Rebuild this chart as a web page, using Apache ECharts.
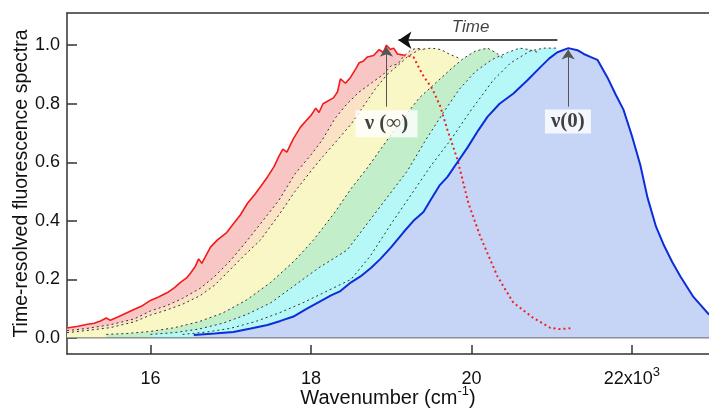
<!DOCTYPE html>
<html>
<head>
<meta charset="utf-8">
<script src="https://cdn.jsdelivr.net/npm/echarts@6/dist/echarts.min.js"></script>
<style>
html, body { margin: 0; background: #fff; }
#chart { width: 709px; height: 408px; }
</style>
</head>
<body>
<div id="chart"></div>
<script>
// wavenumber (cm-1), normalised intensity
var redSolid = [
  [14960,0.034],[15100,0.040],[15200,0.046],[15300,0.050],[15377,0.058],[15450,0.068],[15500,0.060],
  [15600,0.072],[15700,0.085],[15800,0.098],[15900,0.110],[16000,0.128],[16100,0.140],[16212,0.155],
  [16300,0.172],[16374,0.190],[16450,0.205],[16500,0.222],[16560,0.245],[16600,0.270],[16640,0.255],
  [16700,0.285],[16748,0.310],[16835,0.335],[16950,0.360],[17034,0.390],[17120,0.420],[17209,0.460],
  [17300,0.490],[17380,0.520],[17458,0.550],[17540,0.585],[17600,0.620],[17650,0.645],[17700,0.635],
  [17780,0.680],[17869,0.720],[17950,0.745],[18000,0.760],[18060,0.785],[18100,0.770],[18150,0.800],
  [18280,0.820],[18330,0.840],[18367,0.885],[18430,0.870],[18492,0.890],[18560,0.920],[18600,0.940],
  [18650,0.945],[18704,0.960],[18780,0.965],[18850,0.985],[18900,0.975],[18941,1.000],[18990,0.985],
  [19030,0.990],[19078,0.970],[19153,0.966]
];
var redDotted = [
  [19153,0.966],[19277,0.960],[19389,0.900],[19514,0.850],[19613,0.790],[19701,0.710],[19825,0.610],
  [19962,0.460],[20112,0.345],[20324,0.210],[20523,0.120],[20772,0.068],[20984,0.034],[21100,0.030],
  [21270,0.034]
];
var dash1 = [
  [14960,0.025],[15200,0.032],[15500,0.045],[15800,0.065],[16000,0.092],[16200,0.110],[16400,0.135],
  [16623,0.170],[16800,0.210],[17000,0.265],[17210,0.334],[17400,0.400],[17600,0.470],[17800,0.560],
  [18000,0.625],[18140,0.676],[18300,0.750],[18450,0.800],[18600,0.840],[18750,0.870],[18900,0.900],
  [19000,0.930],[19080,0.935],[19150,0.960],[19240,0.983],[19320,0.990],[19400,0.985]
];
var dash2 = [
  [14960,0.018],[15200,0.025],[15500,0.035],[15800,0.055],[16000,0.078],[16200,0.095],[16400,0.115],
  [16623,0.145],[16800,0.180],[17000,0.235],[17200,0.290],[17370,0.334],[17600,0.420],[17800,0.500],
  [18000,0.570],[18150,0.620],[18330,0.676],[18500,0.730],[18650,0.790],[18800,0.850],[18950,0.900],
  [19080,0.930],[19200,0.960],[19350,0.985],[19500,0.990],[19620,0.985],[19720,0.970],[19850,0.955]
];
var dash3 = [
  [15450,0.012],[15700,0.015],[16000,0.022],[16300,0.035],[16600,0.055],[16900,0.085],[17200,0.130],
  [17500,0.190],[17800,0.265],[18030,0.334],[18300,0.430],[18500,0.510],[18700,0.580],[18950,0.676],
  [19150,0.750],[19350,0.820],[19550,0.870],[19750,0.920],[19900,0.955],[20050,0.980],[20200,0.990],
  [20300,0.975],[20400,0.955]
];
var dash4 = [
  [16000,0.012],[16300,0.018],[16600,0.030],[16900,0.050],[17200,0.080],[17500,0.120],[17800,0.180],
  [18100,0.240],[18450,0.300],[18700,0.390],[18950,0.480],[19200,0.570],[19430,0.676],[19650,0.770],
  [19850,0.850],[20050,0.910],[20250,0.950],[20450,0.975],[20600,0.990],[20720,0.985],[20830,0.975]
];
var dash5 = [
  [16400,0.012],[16700,0.020],[17000,0.033],[17300,0.055],[17600,0.085],[17900,0.120],[18200,0.160],
  [18500,0.200],[18740,0.280],[19000,0.390],[19250,0.490],[19500,0.590],[19740,0.676],[20000,0.780],
  [20270,0.880],[20490,0.940],[20730,0.980],[20900,0.990],[21000,0.990],[21060,0.990]
];
var blue = [
  [16540,0.010],[16800,0.015],[17034,0.020],[17250,0.032],[17458,0.044],[17620,0.058],[17782,0.073],
  [17950,0.100],[18081,0.120],[18250,0.145],[18367,0.160],[18500,0.190],[18617,0.210],[18750,0.240],
  [18866,0.270],[19000,0.310],[19150,0.360],[19277,0.400],[19402,0.430],[19489,0.470],[19600,0.520],
  [19701,0.550],[19825,0.600],[19950,0.650],[20087,0.710],[20199,0.755],[20350,0.800],[20523,0.835],
  [20697,0.880],[20859,0.925],[20970,0.955],[21071,0.976],[21208,0.990],[21320,0.983],[21400,0.970],
  [21482,0.960],[21570,0.950],[21694,0.890],[21800,0.830],[21894,0.780],[22000,0.690],[22105,0.590],
  [22193,0.480],[22300,0.380],[22392,0.320],[22500,0.260],[22604,0.210],[22766,0.140],[22960,0.080]
];
var xTicks = [16000, 18000, 20000, 22000];
var yTicks = [0, 0.2, 0.4, 0.6, 0.8, 1.0];

var fillColors = ['#f9c6c6', '#fbe2c4', '#f9f7c6', '#c2efc9', '#b6f8f8', '#b6f8f8', '#c6d5f6'];
var curves = [redSolid.concat(redDotted.slice(1)), dash1, dash2, dash3, dash4, dash5, blue];

var series = [];
curves.forEach(function (d, i) {
  series.push({
    type: 'line', data: d, symbol: 'none', silent: true, z: 1 + i,
    lineStyle: { width: 0 },
    areaStyle: { color: fillColors[i], opacity: 1 }
  });
});
// zero line
series.push({
  type: 'line', data: [[14960, 0], [22960, 0]], symbol: 'none', silent: true, z: 9,
  lineStyle: { color: '#666', width: 1 }
});
[dash1, dash2, dash3, dash4, dash5].forEach(function (d) {
  series.push({
    type: 'line', data: d, symbol: 'none', silent: true, z: 10,
    lineStyle: { color: '#333', width: 1, type: [2, 3] }
  });
});
series.push({
  type: 'line', data: redDotted, symbol: 'none', silent: true, z: 11,
  lineStyle: { color: '#f02020', width: 2, type: [2, 3] }
});
series.push({
  type: 'line', data: redSolid, symbol: 'none', silent: true, z: 11,
  lineStyle: { color: '#f21a1a', width: 1.6 }
});
series.push({
  type: 'line', data: blue, symbol: 'none', silent: true, z: 12,
  lineStyle: { color: '#0c2ed8', width: 2 }
});

// annotations: labels and arrows, placed in data coordinates
function label(pt, text, box, style) {
  return {
    type: 'scatter', data: [pt], symbol: 'rect', symbolSize: box, silent: true, z: 21,
    itemStyle: { color: box[0] > 1 ? '#fff' : 'rgba(0,0,0,0)' },
    label: Object.assign({ show: true, position: 'inside', formatter: text, color: '#111' }, style)
  };
}
series.push(label([18941, 0.732], 'ν (∞)', [62, 27],
  { fontWeight: 'bold', fontSize: 21, fontFamily: 'Liberation Serif' }));
series.push(label([21202, 0.739], 'ν(0)', [46, 24],
  { fontWeight: 'bold', fontSize: 21, fontFamily: 'Liberation Serif' }));
series.push(label([19990, 1.062], 'Time', [1, 1],
  { fontStyle: 'italic', fontSize: 17, fontFamily: 'Liberation Sans' }));

var arrows = [
  { from: [18941, 0.79], to: [18941, 0.995], color: '#555', width: 1 },
  { from: [21205, 0.79], to: [21205, 0.985], color: '#555', width: 1 },
  { from: [21070, 1.017], to: [19090, 1.017], color: '#111', width: 1.5 }
];
arrows.forEach(function (a) {
  series.push({
    type: 'lines', coordinateSystem: 'cartesian2d', silent: true, z: 20,
    symbol: ['none', 'arrow'], symbolSize: a.width > 1 ? 13 : 10,
    lineStyle: { color: a.color, width: a.width, opacity: 1 },
    data: [{ coords: [a.from, a.to] }]
  });
});

var supStyle = { fontSize: 13, fontFamily: 'Liberation Sans', color: '#111', lineHeight: 26, verticalAlign: 'top' };

var chart = echarts.init(document.getElementById('chart'));
chart.setOption({
  backgroundColor: '#fff',
  animation: false,
  grid: { left: 67, right: 0, top: 13, bottom: 54, outerBoundsMode: 'none' },
  xAxis: [{
    type: 'value', min: 14960, max: 22960, position: 'bottom',
    splitLine: { show: false },
    axisLine: { onZero: false, lineStyle: { color: '#333', width: 1.5 } },
    axisTick: { inside: true, length: 9, customValues: xTicks, lineStyle: { color: '#333', width: 1.5 } },
    axisLabel: {
      customValues: xTicks, margin: 12, color: '#111', fontSize: 18, fontFamily: 'Liberation Sans',
      formatter: function (v) {
        return v === 22000 ? '{n|22x10}{s|3}' : '{n|' + (v / 1000) + '}';
      },
      rich: {
        n: { fontSize: 18, fontFamily: 'Liberation Sans', color: '#111', lineHeight: 26 },
        s: supStyle
      }
    },
    name: '{n|Wavenumber (cm}{s|-1}{n|)}', nameLocation: 'middle', nameGap: 31, nameMoveOverlap: false,
    nameTextStyle: {
      fontSize: 20, fontFamily: 'Liberation Sans', color: '#111',
      rich: { n: { fontSize: 20, fontFamily: 'Liberation Sans', color: '#111', lineHeight: 26 }, s: supStyle }
    }
  }, {
    type: 'value', min: 14960, max: 22960, position: 'top',
    splitLine: { show: false }, axisTick: { show: false }, axisLabel: { show: false },
    axisLine: { show: true, onZero: false, lineStyle: { color: '#333', width: 1.5 } }
  }],
  yAxis: {
    type: 'value', min: -0.055, max: 1.11,
    splitLine: { show: false },
    axisLine: { show: true, onZero: false, lineStyle: { color: '#333', width: 1.5 } },
    axisTick: { inside: true, length: 10, customValues: yTicks, lineStyle: { color: '#333', width: 1.5 } },
    axisLabel: {
      customValues: yTicks, margin: 7, color: '#111', fontSize: 18, fontFamily: 'Liberation Sans',
      formatter: function (v) { return v.toFixed(1); }
    },
    name: 'Time-resolved fluorescence spectra', nameLocation: 'middle', nameGap: 35, nameMoveOverlap: false,
    nameTextStyle: { fontSize: 19.5, fontFamily: 'Liberation Sans', color: '#111' }
  },
  series: series
});
</script>
</body>
</html>
